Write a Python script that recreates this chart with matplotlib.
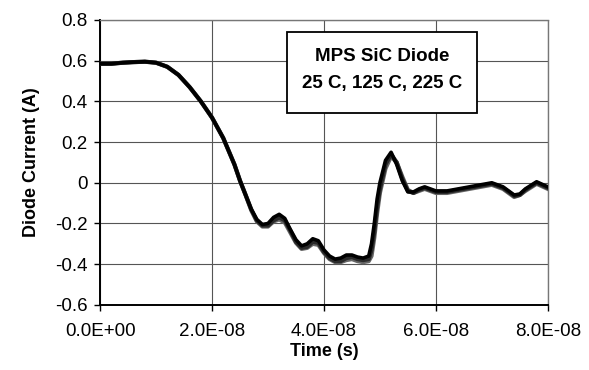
import matplotlib
matplotlib.use("Agg")
import matplotlib.pyplot as plt
from matplotlib.ticker import FuncFormatter, MultipleLocator
from matplotlib.patches import Rectangle

plt.rcParams['font.family'] = ['Liberation Sans', 'DejaVu Sans']

t_ns = [0, 2, 4, 6, 8, 10, 12, 14, 16, 18, 20, 22, 24, 25, 26, 27, 28, 29, 30,
        31, 32, 33, 34, 35, 36, 37, 38, 39, 40, 41, 42, 43, 44, 45, 46, 47, 48,
        48.5, 49, 49.5, 50, 51, 52, 53, 54, 55, 56, 57, 58, 59, 60, 62, 64, 66,
        68, 70, 72, 73, 74, 75, 76, 78, 80]

i_25c = [0.585, 0.585, 0.59, 0.593, 0.595, 0.59, 0.57, 0.53, 0.47, 0.40, 0.32,
         0.22, 0.09, 0.01, -0.06, -0.13, -0.18, -0.205, -0.20, -0.17, -0.155,
         -0.175, -0.23, -0.28, -0.31, -0.30, -0.275, -0.285, -0.33, -0.36,
         -0.375, -0.37, -0.355, -0.355, -0.365, -0.37, -0.36, -0.30, -0.20,
         -0.08, 0.0, 0.11, 0.15, 0.09, 0.01, -0.045, -0.045, -0.03, -0.02,
         -0.03, -0.04, -0.04, -0.03, -0.02, -0.01, 0.0, -0.02, -0.04, -0.06,
         -0.055, -0.03, 0.005, -0.02]

i_125c = [0.585, 0.585, 0.59, 0.593, 0.595, 0.59, 0.57, 0.53, 0.47, 0.40, 0.32,
          0.22, 0.09, 0.01, -0.06, -0.13, -0.185, -0.21, -0.21, -0.185, -0.17,
          -0.185, -0.235, -0.29, -0.32, -0.315, -0.29, -0.295, -0.34, -0.37,
          -0.385, -0.385, -0.37, -0.365, -0.375, -0.38, -0.375, -0.33, -0.24,
          -0.12, -0.03, 0.09, 0.14, 0.10, 0.02, -0.04, -0.05, -0.035, -0.025,
          -0.035, -0.045, -0.045, -0.035, -0.025, -0.015, -0.005, -0.025,
          -0.045, -0.065, -0.06, -0.035, 0.0, -0.025]

i_225c = [0.585, 0.585, 0.59, 0.593, 0.595, 0.59, 0.57, 0.53, 0.47, 0.40, 0.32,
          0.22, 0.09, 0.01, -0.06, -0.135, -0.19, -0.215, -0.215, -0.19, -0.18,
          -0.195, -0.245, -0.295, -0.325, -0.32, -0.30, -0.305, -0.345, -0.375,
          -0.39, -0.39, -0.38, -0.375, -0.385, -0.39, -0.385, -0.36, -0.27,
          -0.15, -0.05, 0.07, 0.13, 0.10, 0.03, -0.035, -0.05, -0.04, -0.03,
          -0.04, -0.05, -0.05, -0.04, -0.03, -0.02, -0.01, -0.03, -0.05, -0.07,
          -0.06, -0.04, -0.005, -0.03]

t_s = [v * 1e-9 for v in t_ns]

fig = plt.figure(figsize=(5.89, 3.70), dpi=100)
ax = fig.add_axes([0.170, 0.176, 0.760, 0.770])

ax.plot(t_s, i_225c, color='#666666', lw=3.0, zorder=3)
ax.plot(t_s, i_125c, color='#2a2a2a', lw=3.0, zorder=4)
ax.plot(t_s, i_25c, color='#000000', lw=2.6, zorder=5)

ax.set_xlim(0, 8e-8)
ax.set_ylim(-0.6, 0.8)
ax.xaxis.set_major_locator(MultipleLocator(2e-8))
ax.yaxis.set_major_locator(MultipleLocator(0.2))
ax.xaxis.set_major_formatter(FuncFormatter(lambda x, p: f"{x:.1E}"))
ax.yaxis.set_major_formatter(FuncFormatter(lambda y, p: "0" if abs(y) < 1e-9 else f"{y:.1f}"))

ax.grid(True, color='#555555', lw=0.8)
ax.set_axisbelow(True)

for s in ['top', 'right']:
    ax.spines[s].set_color('#777777')
    ax.spines[s].set_linestyle((0, (1, 1)))
    ax.spines[s].set_linewidth(1.0)
for s in ['left', 'bottom']:
    ax.spines[s].set_color('#000000')
    ax.spines[s].set_linewidth(1.4)

ax.tick_params(axis='both', labelsize=13.5, length=4, width=1, color='#000000', pad=5)
ax.tick_params(axis='x', pad=9)

ax.set_xlabel('Time (s)', fontsize=13, fontweight='bold', labelpad=2)
ax.set_ylabel('Diode Current (A)', fontsize=13, fontweight='bold', labelpad=11)

ax.add_patch(Rectangle((0.417, 0.674), 0.425, 0.284, transform=ax.transAxes,
                       fc='white', ec='black', lw=1.3, zorder=6))
ax.text(0.629, 0.873, 'MPS SiC Diode', transform=ax.transAxes,
        ha='center', va='center', fontsize=13.5, fontweight='bold', zorder=7)
ax.text(0.629, 0.778, '25 C, 125 C, 225 C', transform=ax.transAxes,
        ha='center', va='center', fontsize=13.5, fontweight='bold', zorder=7)

fig.savefig('out.png', dpi=100)
